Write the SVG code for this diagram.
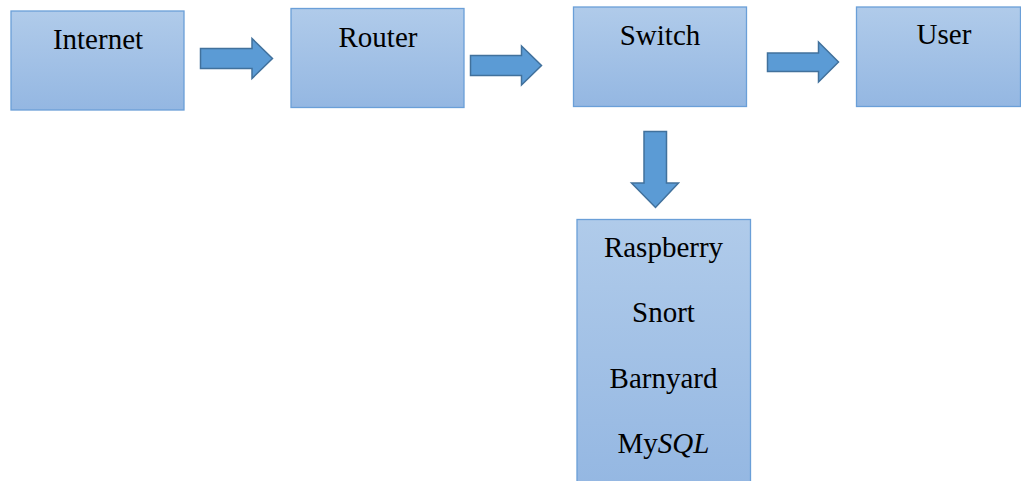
<svg xmlns="http://www.w3.org/2000/svg" width="1021" height="481" viewBox="0 0 1021 481">
<defs>
<linearGradient id="g" x1="0" y1="0" x2="0" y2="1">
<stop offset="0" stop-color="#b0cbea"/>
<stop offset="1" stop-color="#94b7e2"/>
</linearGradient>
<style>
.box{fill:url(#g);stroke:#6a9fd8;stroke-width:1.3}
.arr{fill:#5b9bd5;stroke:#41719c;stroke-width:1.5;stroke-linejoin:miter}
text{font-family:"Liberation Serif","Times New Roman",serif;font-size:29px;fill:#000;text-anchor:middle}
</style>
</defs>
<g id="internet"><rect class="box" x="11" y="11" width="173" height="99"/><text x="98" y="49">Internet</text></g>
<g id="router"><rect class="box" x="291" y="8.5" width="173" height="99"/><text x="378" y="47">Router</text></g>
<g id="switch"><rect class="box" x="573.5" y="7" width="173" height="99.5"/><text x="660" y="45">Switch</text></g>
<g id="user"><rect class="box" x="856.5" y="7" width="164" height="99.5"/><text x="944" y="44">User</text></g>
<g id="device"><rect class="box" x="577" y="219.5" width="173.5" height="270"/>
<text x="663.5" y="257">Raspberry</text>
<text x="663.5" y="322">Snort</text>
<text x="663.5" y="388">Barnyard</text>
<text x="663.5" y="453">My<tspan font-style="italic">SQL</tspan></text>
</g>
<g id="connectors">
<path class="arr" d="M200.5,48.5 H252 V38.5 L272.5,58.5 L252,78.5 V68.5 H200.5 Z"/>
<path class="arr" d="M470.5,55.5 H521.5 V46 L541.5,65.5 L521.5,85 V75.5 H470.5 Z"/>
<path class="arr" d="M767.5,53 H818.5 V42 L838.5,62 L818.5,82 V71.5 H767.5 Z"/>
<path class="arr" d="M644,131.5 H666.5 V183 H678.5 L655.5,207.5 L631.5,183 H644 Z"/>
</g>
</svg>
